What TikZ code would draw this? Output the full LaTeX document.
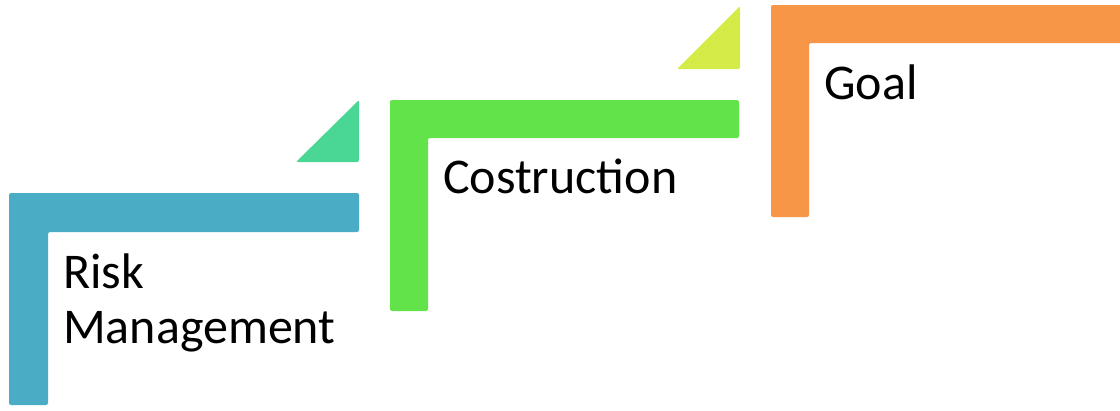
\documentclass[tikz,border=0pt]{standalone}
\usepackage{fontspec}
\setmainfont{Carlito}
\definecolor{riskblue}{RGB}{75,172,198}
\definecolor{buildgreen}{RGB}{98,227,74}
\definecolor{goalorange}{RGB}{247,150,70}
\definecolor{tealtri}{RGB}{74,214,148}
\definecolor{limetri}{RGB}{213,236,72}
\begin{document}
\begin{tikzpicture}[x=1pt, y=-1pt,
    stepbar/.style={rounded corners=2pt},
    steplabel/.style={anchor=base west, inner sep=0pt, align=left,
        font=\fontsize{50}{55}\selectfont}]
    \useasboundingbox (0,0) rectangle (1120,410);

    % 三个台阶
    \fill[riskblue, stepbar] (9,193) -- (359,193) -- (359,232) -- (48,232) -- (48,405) -- (9,405) -- cycle;
    \fill[buildgreen, stepbar] (390,100) -- (739,100) -- (739,138) -- (428,138) -- (428,311) -- (390,311) -- cycle;
    \fill[goalorange, stepbar] (771,5) -- (1122,5) -- (1122,43) -- (809,43) -- (809,217) -- (771,217) -- cycle;

    % 小三角
    \fill[tealtri, stepbar] (359,100) -- (359,162) -- (296,162) -- cycle;
    \fill[limetri, stepbar] (740,6) -- (740,69) -- (677,69) -- cycle;

    % 文字
    \node[steplabel] (risk) at (63,343) {Risk\\Management};
    \node[steplabel] (build) at (443,193) {Costruction};
    \node[steplabel] (goal) at (824,99) {Goal};
\end{tikzpicture}
\end{document}
